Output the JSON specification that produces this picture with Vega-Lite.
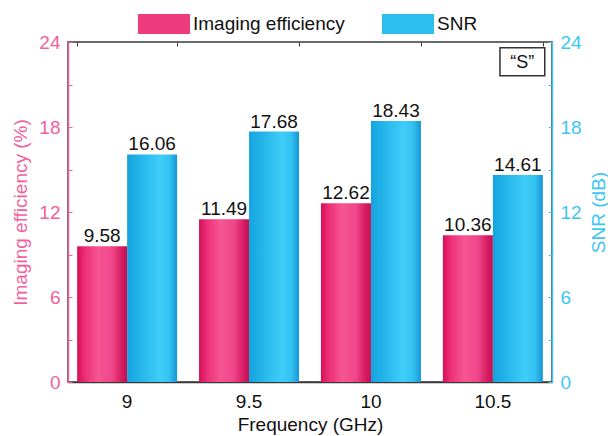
{
  "$schema": "https://vega.github.io/schema/vega-lite/v6.json",
  "autosize": {"type": "none"},
  "padding": {"left": 68, "top": 42, "right": 56, "bottom": 54},
  "width": 484,
  "height": 340,
  "background": "white",
  "config": {
    "font": "Liberation Sans",
    "view": {"stroke": "#3a3a3a", "strokeWidth": 1.5},
    "axis": {"labelFont": "Liberation Sans", "titleFont": "Liberation Sans", "labelFontSize": 19, "titleFontSize": 19, "titleFontWeight": "normal", "grid": false},
    "legend": {"labelFont": "Liberation Sans", "labelFontSize": 19}
  },
  "datasets": {
    "bars": [
      {"freq": "9", "series": "Imaging efficiency", "value": 9.58},
      {"freq": "9", "series": "SNR", "value": 16.06},
      {"freq": "9.5", "series": "Imaging efficiency", "value": 11.49},
      {"freq": "9.5", "series": "SNR", "value": 17.68},
      {"freq": "10", "series": "Imaging efficiency", "value": 12.62},
      {"freq": "10", "series": "SNR", "value": 18.43},
      {"freq": "10.5", "series": "Imaging efficiency", "value": 10.36},
      {"freq": "10.5", "series": "SNR", "value": 14.61}
    ],
    "note": [{"label": "“S”", "freq": "10.5", "y": 22.6}]
  },
  "layer": [
    {
      "data": {"name": "bars"},
      "mark": {"type": "bar", "strokeWidth": 0},
      "encoding": {
        "x": {"field": "freq", "type": "nominal", "sort": null,
          "scale": {"domain": ["9", "9.5", "10", "10.5"], "paddingInner": 0.18, "paddingOuter": 0.075},
          "axis": {"title": "Frequency (GHz)", "labelAngle": 0, "labelColor": "#111", "titleColor": "#111", "domainColor": "#3a3a3a", "domainWidth": 1.5, "tickColor": "#3a3a3a", "tickSize": -4, "labelPadding": 14, "titlePadding": 4}},
        "xOffset": {"field": "series", "type": "nominal", "scale": {"domain": ["Imaging efficiency", "SNR"], "paddingInner": 0, "paddingOuter": 0}},
        "y": {"field": "value", "type": "quantitative", "scale": {"domain": [0, 24], "nice": false},
          "axis": {"title": "Imaging efficiency (%)", "orient": "left", "values": [0, 3, 6, 9, 12, 15, 18, 21, 24], "labelExpr": "datum.value % 6 === 0 ? datum.label : ''", "labelColor": "#F2619C", "titleColor": "#F2619C", "domainColor": "#F2619C", "domainWidth": 1.5, "tickColor": "#F2619C", "tickSize": -4, "labelPadding": 12, "titlePadding": 8}},
        "fill": {
          "condition": {"test": "datum.series === 'SNR'", "value":
            {"gradient": "linear", "x1": 0, "y1": 0, "x2": 1, "y2": 0, "stops": [
              {"offset": 0, "color": "#15A3DE"}, {"offset": 0.3, "color": "#27B7EB"}, {"offset": 0.65, "color": "#3FCDF8"}, {"offset": 0.85, "color": "#33C1F1"}, {"offset": 1, "color": "#1596D2"}]}},
          "value": {"gradient": "linear", "x1": 0, "y1": 0, "x2": 1, "y2": 0, "stops": [
              {"offset": 0, "color": "#D60F58"}, {"offset": 0.15, "color": "#EC2E76"}, {"offset": 0.42, "color": "#F65592"}, {"offset": 0.7, "color": "#F0468A"}, {"offset": 0.9, "color": "#D51A60"}, {"offset": 1, "color": "#C2104F"}]}
        },
        "stroke": {"field": "series", "type": "nominal",
          "scale": {"domain": ["Imaging efficiency", "SNR"], "range": ["#EC3A7C", "#2DBDEE"]},
          "legend": {"title": null, "orient": "none", "direction": "horizontal", "legendX": 76, "legendY": -38,
            "symbolType": "M-2.6,0H2.6", "symbolSize": 400, "symbolStrokeWidth": 20, "symbolFillColor": "transparent", "symbolOpacity": 1,
            "labelOffset": 9, "columnPadding": -3, "labelColor": "#111", "labelFontSize": 19}}
      }
    },
    {
      "data": {"name": "bars"},
      "mark": {"type": "text", "baseline": "alphabetic", "dy": -4, "fontSize": 19, "color": "#111"},
      "encoding": {
        "x": {"field": "freq", "type": "nominal", "sort": null,
          "axis": {"title": null, "labels": false, "domain": false, "tickBand": "extent", "tickColor": "#3a3a3a", "tickSize": -4}},
        "xOffset": {"field": "series", "type": "nominal"},
        "y": {"field": "value", "type": "quantitative", "scale": {"domain": [0, 24], "nice": false},
          "axis": {"title": "SNR (dB)", "orient": "right", "titleAngle": 270, "titleBaseline": "top", "values": [0, 3, 6, 9, 12, 15, 18, 21, 24], "labelExpr": "datum.value % 6 === 0 ? datum.label : ''", "labelColor": "#3DC6F2", "titleColor": "#3DC6F2", "domainColor": "#3DC6F2", "domainWidth": 1.5, "tickColor": "#3DC6F2", "tickSize": -4, "labelPadding": 12, "titlePadding": 8}},
        "text": {"field": "value", "type": "quantitative", "format": ".2f"}
      }
    },
    {
      "data": {"name": "note"},
      "mark": {"type": "point", "shape": "M-1.6,-1H1.6V1H-1.6Z", "size": 784, "filled": false, "stroke": "#333", "strokeWidth": 1.5, "opacity": 1},
      "encoding": {
        "x": {"field": "freq", "type": "nominal", "sort": null, "bandPosition": 0.795, "axis": null},
        "y": {"field": "y", "type": "quantitative", "scale": {"domain": [0, 24], "nice": false}, "axis": null}
      }
    },
    {
      "data": {"name": "note"},
      "mark": {"type": "text", "fontSize": 18, "color": "#111", "baseline": "middle", "dy": 1},
      "encoding": {
        "x": {"field": "freq", "type": "nominal", "sort": null, "bandPosition": 0.795, "axis": null},
        "y": {"field": "y", "type": "quantitative", "scale": {"domain": [0, 24], "nice": false}, "axis": null},
        "text": {"field": "label"}
      }
    }
  ],
  "resolve": {"scale": {"y": "independent"}, "axis": {"x": "independent", "y": "independent"}}
}
